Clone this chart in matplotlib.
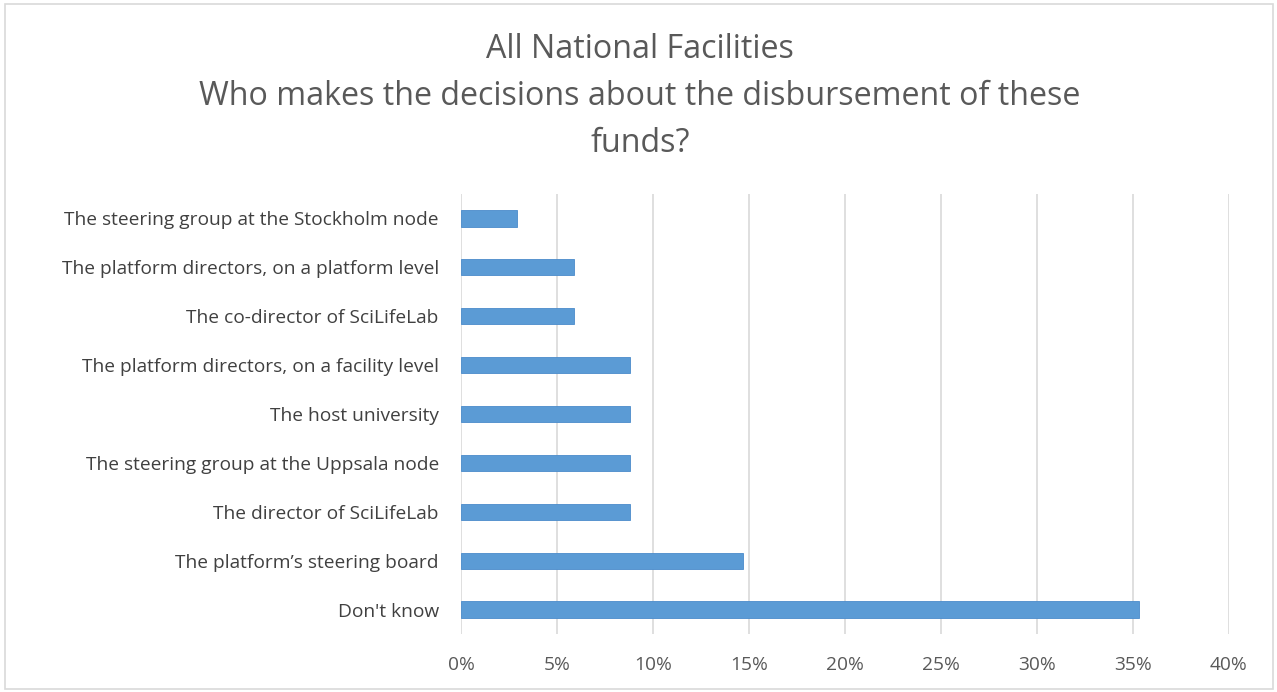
import matplotlib
matplotlib.use("Agg")
import matplotlib.pyplot as plt
from matplotlib.patches import Rectangle
from matplotlib.ticker import FuncFormatter, MultipleLocator

plt.rcParams['font.family'] = ['Open Sans', 'DejaVu Sans']

categories = [
    "Don't know",
    "The platform\u2019s steering board",
    "The director of SciLifeLab",
    "The steering group at the Uppsala node",
    "The host university",
    "The platform directors, on a facility level",
    "The co-director of SciLifeLab",
    "The platform directors, on a platform level",
    "The steering group at the Stockholm node",
]
shares = [0.353, 0.147, 0.088, 0.088, 0.088, 0.088, 0.059, 0.059, 0.029]

title_lines = [
    "All National Facilities",
    "Who makes the decisions about the disbursement of these",
    "funds?",
]

bar_color = "#5B9BD5"
text_color = "#595959"
grid_color = "#D9D9D9"

W, H = 1277, 692
fig = plt.figure(figsize=(W / 100, H / 100), dpi=100)
ax = fig.add_axes([461 / W, 1 - 634 / H, (1229 - 461) / W, (634 - 194) / H])

y = range(len(categories))
ax.barh(list(y), shares, height=0.33, color=bar_color, edgecolor="#4A8BCB", linewidth=0.6, zorder=3)
ax.set_yticks(list(y))
ax.set_yticklabels(categories, fontsize=13.8, color="#404040")
ax.set_ylim(-0.5, len(categories) - 0.5)
ax.set_xlim(0, 0.40)
ax.xaxis.set_major_locator(MultipleLocator(0.05))
ax.xaxis.set_major_formatter(FuncFormatter(lambda v, p: f"{round(v * 100):d}%"))
ax.tick_params(axis="x", labelsize=13.8, labelcolor=text_color, length=0, pad=16)
ax.tick_params(axis="y", length=0, pad=16)
ax.grid(axis="x", color=grid_color, linewidth=1.2, zorder=0)
for s in ax.spines.values():
    s.set_visible(False)

for i, line in enumerate(title_lines):
    fig.text(640 / W, 1 - (50 + i * 46.5) / H, line, ha="center", va="center",
             fontsize=23.2, color=text_color)

fig.patches.append(Rectangle((5 / W, 1 - 689 / H), (1273 - 5) / W, (689 - 4) / H,
                             transform=fig.transFigure, fill=False,
                             edgecolor="#D9D9D9", linewidth=1.2))

fig.savefig("out.png", dpi=100, facecolor="white")
